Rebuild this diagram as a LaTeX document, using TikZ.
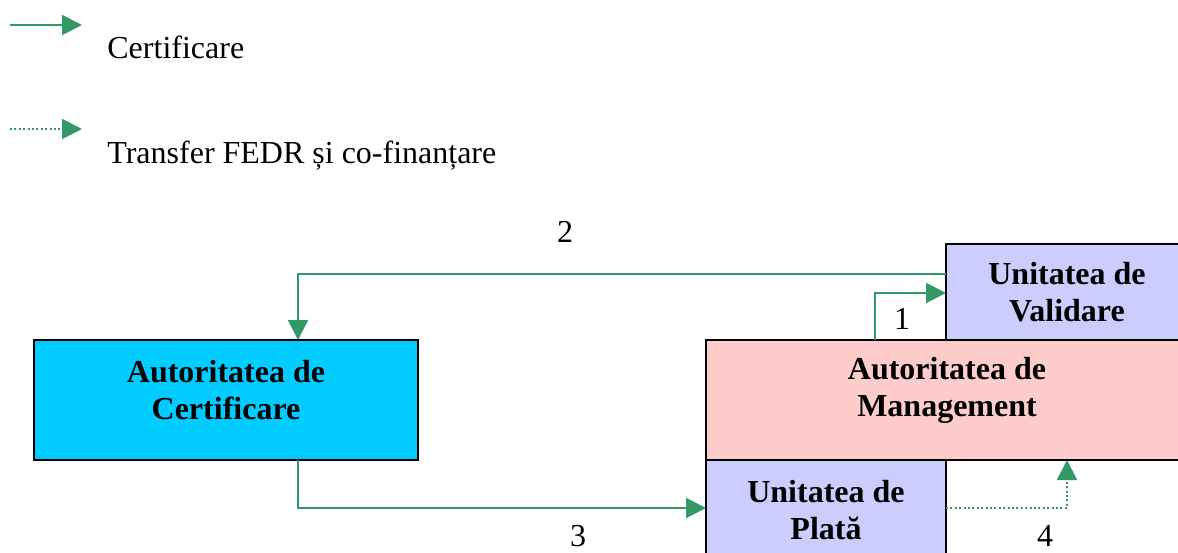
\documentclass[tikz,border=0pt]{standalone}
\usepackage{fontspec}
\setmainfont{Liberation Serif}
\usetikzlibrary{arrows.meta}
\usetikzlibrary{shapes,positioning}
\definecolor{flowgreen}{RGB}{51,153,102}
\definecolor{certblue}{RGB}{0,204,255}
\definecolor{mgmtpink}{RGB}{255,204,204}
\definecolor{unitlilac}{RGB}{204,204,255}
\tikzset{>={Triangle[length=10pt,width=10pt]}}
\tikzset{
  box/.style={draw=black,line width=1pt,anchor=north west,inner sep=0pt,outer sep=0pt,
    align=center,font=\fontsize{16}{18.5}\selectfont\bfseries},
  boxtext/.style={align=center,inner sep=0pt,font=\fontsize{16}{18.5}\selectfont\bfseries},
  certflow/.style={draw=flowgreen,line width=1pt,->,color=flowgreen},
  transflow/.style={certflow,dash pattern=on 1pt off 1.2pt},
  numlabel/.style={anchor=base,inner sep=0pt,font=\fontsize{16}{18.5}\selectfont}
}

\begin{document}
\begin{tikzpicture}[x=0.5pt,y=-0.5pt]
        \useasboundingbox (0,0) rectangle (1178,552);
        \clip (0,0) rectangle (1178,552);
        % legenda
        \coordinate (l1a) at (10,25);
        \coordinate (l1b) at (82,25);
        \coordinate (l2a) at (10,129);
        \coordinate (l2b) at (82,129);
        \draw[certflow] (l1a) -- (l1b);
        \draw[transflow] (l2a) -- (l2b);
        \node[anchor=base west,inner sep=0pt,font=\fontsize{16}{18.5}\selectfont] (leg1) at (107,58) {Certificare};
        \node[anchor=base west,inner sep=0pt,font=\fontsize{16}{18.5}\selectfont] (leg2) at (107,163) {Transfer FEDR și co-finanțare};
        % casete
        \node[box,fill=certblue,minimum width=192pt,minimum height=60pt] (cert) at (34,340) {};
        \node[boxtext] (certtxt) at ([yshift=5pt]cert.center) {Autoritatea de\\Certificare};
        \node[box,fill=mgmtpink,minimum width=241pt,minimum height=60pt] (mgmt) at (706,340) {};
        \node[boxtext] (mgmttxt) at ([yshift=5pt]mgmt.center) {Autoritatea de\\Management};
        \node[box,fill=unitlilac,minimum width=121pt,minimum height=48pt] (valid) at (946,244) {Unitatea de\\Validare};
        \node[box,fill=unitlilac,minimum width=120pt,minimum height=50pt] (plata) at (706,460) {Unitatea de\\Plată};
        % fluxuri
        \coordinate (c1) at ([xshift=84.5pt]mgmt.north west);
        \coordinate (v1) at ([yshift=-24.5pt]valid.north west);
        \coordinate (v2) at ([yshift=-15pt]valid.north west);
        \coordinate (c2) at ([xshift=36pt]cert.north);
        \coordinate (c3) at ([xshift=36pt]cert.south);
        \coordinate (p3) at ([yshift=-24pt]plata.north west);
        \coordinate (p4) at ([yshift=-24pt]plata.north east);
        \coordinate (m4) at ([xshift=180.5pt]mgmt.south west);
        \draw[certflow] (c1) |- (v1);
        \draw[certflow] (v2) -| (c2);
        \draw[certflow] (c3) |- (p3);
        \draw[transflow] (p4) -| (m4);
        \node[numlabel] (n1) at (902,329) {1};
        \node[numlabel] (n2) at (565,242) {2};
        \node[numlabel] (n3) at (578,546) {3};
        \node[numlabel] (n4) at (1045,546) {4};
      \end{tikzpicture}
\end{document}
